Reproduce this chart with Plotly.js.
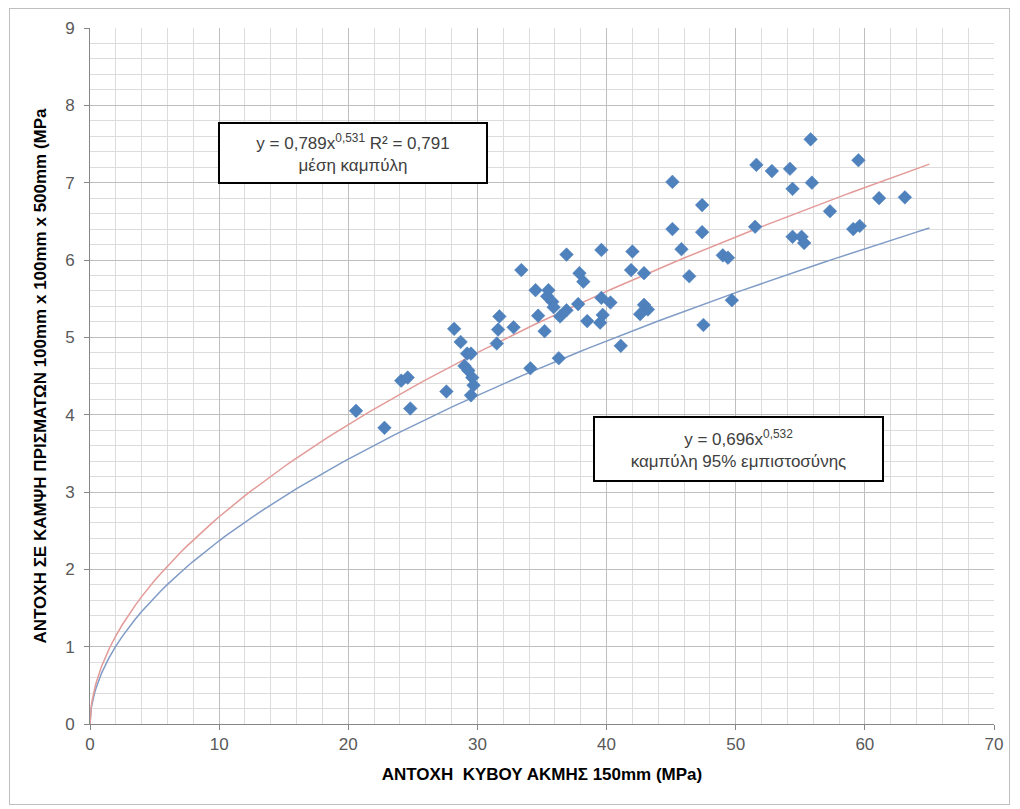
<!DOCTYPE html>
<html>
<head>
<meta charset="utf-8">
<script src="https://cdn.plot.ly/plotly-3.0.1.min.js"></script>
<style>
  html, body { margin: 0; padding: 0; background: #ffffff; }
  #wrap { position: relative; width: 1020px; height: 809px; }
  #chart { position: absolute; left: 0; top: 0; width: 1020px; height: 809px; }
  #frame { position: absolute; left: 9px; top: 8px; width: 1001px; height: 797px;
           border: 1px solid #BFBFBF; pointer-events: none; box-sizing: border-box; }
</style>
</head>
<body>
<div id="wrap">
  <div id="chart"></div>
  <div id="frame"></div>
</div>
<script>
// Measured points: cube strength (x, MPa) vs flexural strength (y, MPa)
const cubeStrength = [
  20.6, 22.8, 24.1, 24.6, 24.8, 27.6, 28.2, 28.7, 29.2, 29.5,
  29.0, 29.3, 29.6, 29.7, 29.5, 31.7, 31.6, 31.5, 32.8, 33.4,
  34.1, 34.5, 34.7, 35.2, 35.5, 35.4, 35.8, 35.9, 36.3, 36.4,
  36.9, 36.9, 37.9, 38.2, 37.8, 38.5, 39.6, 40.3, 39.7, 39.5,
  39.6, 41.1, 42.0, 41.9, 42.9, 42.9, 43.2, 42.6, 45.1, 45.1,
  45.8, 46.4, 47.4, 47.4, 47.5, 49.0, 49.4, 49.7, 51.5, 51.6,
  52.8, 54.2, 54.4, 54.4, 55.1, 55.3, 55.8, 55.9, 57.3, 59.1,
  59.6, 59.5, 61.1, 63.1
];
const flexStrength = [
  4.05, 3.83, 4.44, 4.48, 4.08, 4.30, 5.11, 4.94, 4.79, 4.79,
  4.63, 4.57, 4.48, 4.38, 4.25, 5.27, 5.10, 4.92, 5.13, 5.87,
  4.60, 5.61, 5.28, 5.08, 5.61, 5.53, 5.46, 5.39, 4.73, 5.27,
  5.35, 6.07, 5.83, 5.72, 5.43, 5.21, 5.51, 5.45, 5.29, 5.19,
  6.13, 4.89, 6.11, 5.87, 5.83, 5.42, 5.36, 5.30, 7.01, 6.40,
  6.14, 5.79, 6.71, 6.36, 5.16, 6.06, 6.03, 5.48, 6.43, 7.23,
  7.15, 7.18, 6.92, 6.30, 6.30, 6.22, 7.56, 7.00, 6.63, 6.40,
  6.44, 7.29, 6.80, 6.81
];

// Power-law curves shown on the chart: y = a * x^b
const meanCurveCoef = [0.789, 0.531];     // μέση καμπύλη
const conf95CurveCoef = [0.696, 0.532];   // καμπύλη 95% εμπιστοσύνης
const curveXRange = [0, 65];

const xTickLabels = ['0','10','20','30','40','50','60','70'];
const yTickLabels = ['0','1','2','3','4','5','6','7','8','9'];

const xTickVals = xTickLabels.map(Number);
const yTickVals = yTickLabels.map(Number);

// Sample x along the curve range (denser near zero where the curve is steep)
const curveX = [];
for (let v = curveXRange[0]; v < 2; v += 0.05) curveX.push(+v.toFixed(3));
for (let v = 2; v <= curveXRange[1] + 1e-9; v += 0.5) curveX.push(+v.toFixed(3));
const powerCurve = (c) => curveX.map(x => c[0] * Math.pow(x, c[1]));

const tickFont = { family: 'Liberation Sans, Arial, sans-serif', size: 17, color: '#595959' };
const titleFont = { family: 'Liberation Sans Narrow, Arial Narrow, Liberation Sans, sans-serif', size: 17, color: '#000000', weight: 'bold' };
const boxFont = { family: 'Liberation Sans, Arial, sans-serif', size: 17, color: '#404040' };

const traces = [
  {
    x: curveX, y: powerCurve(conf95CurveCoef), type: 'scatter', mode: 'lines',
    line: { color: '#7F9BC6', width: 1.5 }, hoverinfo: 'skip', showlegend: false
  },
  {
    x: curveX, y: powerCurve(meanCurveCoef), type: 'scatter', mode: 'lines',
    line: { color: '#E39B99', width: 1.5 }, hoverinfo: 'skip', showlegend: false
  },
  {
    x: cubeStrength, y: flexStrength, type: 'scatter', mode: 'markers',
    marker: { symbol: 'diamond', size: 10.5, color: '#4F81BD', line: { color: '#4A7EBB', width: 0.5 } },
    showlegend: false
  }
];

const layout = {
  width: 1020, height: 809,
  margin: { l: 90, r: 26, t: 28, b: 85 },
  paper_bgcolor: 'rgba(0,0,0,0)', plot_bgcolor: '#ffffff',
  showlegend: false,
  xaxis: {
    range: [0, 70], tickvals: xTickVals, ticktext: xTickLabels,
    showgrid: true, gridcolor: '#BFBFBF', gridwidth: 1,
    minor: { dtick: 2, showgrid: true, gridcolor: '#DCDCDC', gridwidth: 1 },
    showline: true, linecolor: '#868686', linewidth: 1,
    ticks: 'outside', ticklen: 5, tickcolor: '#868686',
    tickfont: tickFont, zeroline: false,
    title: { text: 'ΑΝΤΟΧΗ  ΚΥΒΟΥ ΑΚΜΗΣ 150mm (MPa)', font: titleFont, standoff: 14 }
  },
  yaxis: {
    range: [0, 9], tickvals: yTickVals, ticktext: yTickLabels,
    showgrid: true, gridcolor: '#BFBFBF', gridwidth: 1,
    minor: { dtick: 0.2, showgrid: true, gridcolor: '#DCDCDC', gridwidth: 1 },
    showline: true, linecolor: '#868686', linewidth: 1,
    ticks: 'outside', ticklen: 5, tickcolor: '#868686',
    tickfont: tickFont, zeroline: false, ticklabelstandoff: 6,
    title: { text: 'ΑΝΤΟΧΗ ΣΕ ΚΑΜΨΗ ΠΡΙΣΜΑΤΩΝ 100mm x 100mm x 500mm (MPa', font: titleFont, standoff: 14 }
  },
  annotations: [
    {
      xref: 'paper', yref: 'paper', x: 0.2904, y: 0.8211, xanchor: 'center', yanchor: 'middle',
      text: 'y = 0,789x<sup>0,531</sup> R² = 0,791<br>μέση καμπύλη',
      showarrow: false, font: boxFont, align: 'center',
      bgcolor: '#ffffff', bordercolor: '#000000', borderwidth: 2, borderpad: 0,
      width: 266, height: 58
    },
    {
      xref: 'paper', yref: 'paper', x: 0.7179, y: 0.3944, xanchor: 'center', yanchor: 'middle',
      text: 'y = 0,696x<sup>0,532</sup><br>καμπύλη 95% εμπιστοσύνης',
      showarrow: false, font: boxFont, align: 'center',
      bgcolor: '#ffffff', bordercolor: '#000000', borderwidth: 2, borderpad: 0,
      width: 287, height: 62
    }
  ]
};

Plotly.newPlot('chart', traces, layout, { staticPlot: true, displayModeBar: false });
</script>
</body>
</html>
